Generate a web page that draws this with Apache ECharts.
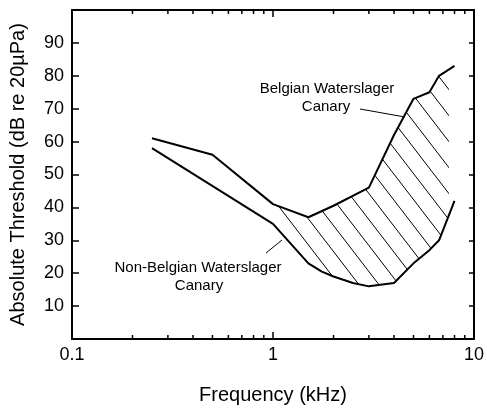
<!DOCTYPE html>
<html>
<head>
<meta charset="utf-8">
<script src="https://cdn.jsdelivr.net/npm/echarts@6/dist/echarts.min.js"></script>
<style>
html, body { margin: 0; background: #fff; }
#chart { width: 487px; height: 410px; }
</style>
</head>
<body>
<div id="chart"></div>
<script>
// Belgian Waterslager canary (upper curve)
var freqBelgian = [0.25, 0.5, 1, 1.5, 2, 3, 4, 5, 6, 6.7, 8];
var dbBelgian = [61, 56, 41, 37, 40.5, 46, 62, 73, 75, 80, 83];
// non-Belgian Waterslager canary (lower curve)
var freqOther = [0.25, 1, 1.5, 1.75, 2, 2.5, 3, 4, 5, 6, 6.7, 8];
var dbOther = [58, 35, 23, 20.5, 19, 17, 16, 17, 23, 27, 30, 42];
// axis ticks
var xMajor = [1];
var xMinor = [0.2, 0.3, 0.4, 0.5, 0.6, 0.7, 0.8, 0.9, 2, 3, 4, 5, 6, 7, 8, 9];

var FONT = '"Liberation Sans", Arial, Helvetica, sans-serif';
var hatchFrom = 1, hatchTo = 7.5;

function zip(xs, ys) {
	var out = [];
	for (var i = 0; i < xs.length; i++) out.push([xs[i], ys[i]]);
	return out;
}

// diagonal hatch tile
function hatchTile() {
	var w = 20, h = 26;
	var c = document.createElement('canvas');
	c.width = w; c.height = h;
	var ctx = c.getContext('2d');
	ctx.strokeStyle = '#000';
	ctx.lineWidth = 1;
	for (var k = -1; k <= 1; k++) {
		ctx.beginPath();
		ctx.moveTo(k * w, 0);
		ctx.lineTo(k * w + w, h);
		ctx.stroke();
	}
	return c;
}
var tile = hatchTile();

// tick positions on bottom (0) and top (100) edges
var tickData = [];
xMinor.concat(xMajor).forEach(function (f) {
	tickData.push([f, 0]);
	tickData.push([f, 100]);
});

function logAxis(pos) {
	return {
		type: 'log', logBase: 10, min: 0.1, max: 10, position: pos,
		axisLine: { show: true, onZero: false, lineStyle: { color: '#000', width: 2 } },
		axisTick: { show: false },
		axisLabel: { show: false },
		splitLine: { show: false }
	};
}

var myChart = echarts.init(document.getElementById('chart'));
var bottomAxis = logAxis('bottom');
bottomAxis.name = 'Frequency (kHz)';
bottomAxis.nameLocation = 'middle';
bottomAxis.nameGap = 46;
bottomAxis.nameTextStyle = { fontSize: 20, color: '#000', fontFamily: FONT };
bottomAxis.axisLabel = { show: true, fontSize: 18, color: '#000', fontFamily: FONT, margin: 7,
	formatter: function (v) { return String(v); } };

var option = {
	animation: false,
	grid: { left: 71, right: 7, top: 10, bottom: 68 },
	xAxis: [bottomAxis, logAxis('top')],
	yAxis: [
		{
			type: 'value', min: 0, max: 100, interval: 10, position: 'left',
			name: 'Absolute Threshold (dB re 20\u00b5Pa)',
			nameLocation: 'middle', nameGap: 44,
			nameTextStyle: { fontSize: 20, color: '#000', fontFamily: FONT },
			axisLine: { show: true, onZero: false, lineStyle: { color: '#000', width: 2 } },
			axisTick: { show: true, inside: true, length: 7, lineStyle: { color: '#000', width: 1.5 } },
			axisLabel: { fontSize: 18, color: '#000', fontFamily: FONT, margin: 8,
				formatter: function (v) { return (v === 0 || v === 100) ? '' : v; } },
			splitLine: { show: false }
		},
		{
			type: 'value', min: 0, max: 100, interval: 10, position: 'right',
			axisLine: { show: true, onZero: false, lineStyle: { color: '#000', width: 2 } },
			axisTick: { show: true, inside: true, length: 5, lineStyle: { color: '#000', width: 1.5 } },
			axisLabel: { show: false },
			splitLine: { show: false }
		}
	],
	series: [
		{
			type: 'custom',
			silent: true,
			z: 1,
			data: [[hatchFrom, 40]],
			renderItem: function (params, api) {
				var pts = [], i;
				for (i = 0; i < freqBelgian.length; i++) {
					if (freqBelgian[i] >= hatchFrom) pts.push(api.coord([freqBelgian[i], dbBelgian[i]]));
				}
				for (i = freqOther.length - 1; i >= 0; i--) {
					if (freqOther[i] >= hatchFrom) pts.push(api.coord([freqOther[i], dbOther[i]]));
				}
				var a = api.coord([hatchFrom, 100]);
				var b = api.coord([hatchTo, 0]);
				return {
					type: 'polygon',
					shape: { points: pts },
					style: { fill: { image: tile, repeat: 'repeat' }, stroke: null },
					clipPath: { type: 'rect', shape: { x: a[0], y: a[1], width: b[0] - a[0], height: b[1] - a[1] } }
				};
			}
		},
		{
			// frame ticks on the log axis
			type: 'custom',
			z: 10,
			clip: false,
			data: tickData,
			renderItem: function (params, api) {
				var f = api.value(0), edge = api.value(1);
				var len = xMajor.indexOf(f) >= 0 ? 7 : 4;
				var p = api.coord([f, edge]);
				var dir = edge > 50 ? 1 : -1;
				return {
					type: 'rect',
					shape: { x: p[0] - 0.75, y: dir > 0 ? p[1] : p[1] - len, width: 1.5, height: len },
					style: { fill: '#000' }
				};
			}
		},
		{
			name: 'Belgian Waterslager Canary',
			type: 'line', symbol: 'none', z: 3,
			lineStyle: { color: '#000', width: 2 },
			data: zip(freqBelgian, dbBelgian)
		},
		{
			name: 'Non-Belgian Waterslager Canary',
			type: 'line', symbol: 'none', z: 3,
			lineStyle: { color: '#000', width: 2 },
			data: zip(freqOther, dbOther)
		}
	],
	graphic: [
		{ type: 'text', style: { text: 'Belgian Waterslager', x: 327, y: 89, font: '15px ' + FONT, fill: '#000', align: 'center', verticalAlign: 'middle' } },
		{ type: 'text', style: { text: 'Canary', x: 326, y: 107, font: '15px ' + FONT, fill: '#000', align: 'center', verticalAlign: 'middle' } },
		{ type: 'line', shape: { x1: 360, y1: 109, x2: 405, y2: 117 }, style: { stroke: '#000', lineWidth: 1 } },
		{ type: 'text', style: { text: 'Non-Belgian Waterslager', x: 198, y: 268, font: '15px ' + FONT, fill: '#000', align: 'center', verticalAlign: 'middle' } },
		{ type: 'text', style: { text: 'Canary', x: 199, y: 286, font: '15px ' + FONT, fill: '#000', align: 'center', verticalAlign: 'middle' } },
		{ type: 'line', shape: { x1: 266, y1: 253, x2: 282, y2: 240 }, style: { stroke: '#000', lineWidth: 1 } }
	]
};
myChart.setOption(option);
</script>
</body>
</html>
